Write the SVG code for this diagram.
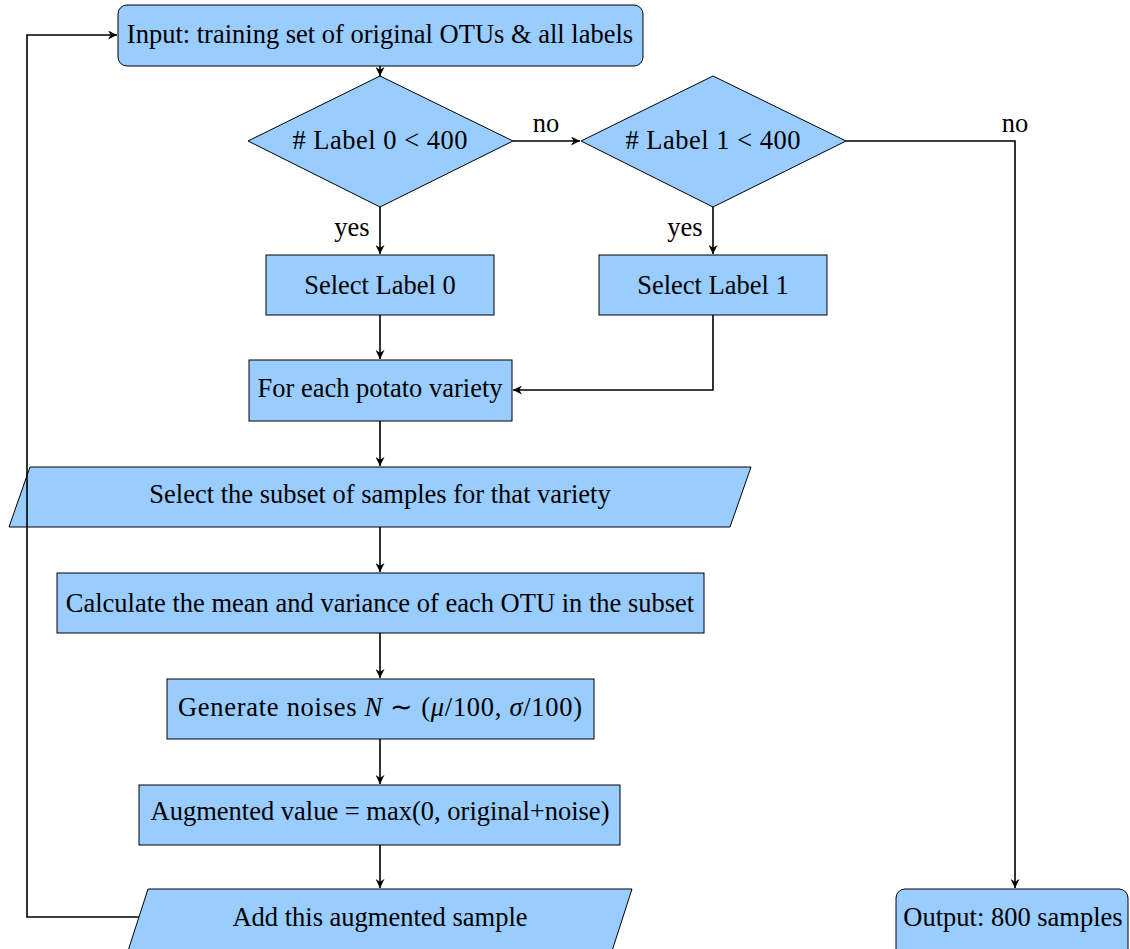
<svg xmlns="http://www.w3.org/2000/svg" width="1130" height="949" viewBox="0 0 1130 949">
<defs>
<marker id="ah" viewBox="0 0 10 10" refX="10" refY="5" markerWidth="9" markerHeight="9" markerUnits="userSpaceOnUse" orient="auto">
<path d="M0,0 L10,5 L0,10 L3,5 Z" fill="#000"/>
</marker>
<style>
.n{fill:#99CCFF;stroke:#000;stroke-width:1}
.t{font-family:"Liberation Serif","Times New Roman",serif;font-size:26.5px;fill:#000;text-anchor:middle;dominant-baseline:central}
.c{fill:none;stroke:#000;stroke-width:1.6;marker-end:url(#ah)}
.l{fill:none;stroke:#000;stroke-width:1.6}
</style>
</defs>
<rect width="1130" height="949" fill="#fff"/>
<g id="input"><rect class="n" x="118" y="5" width="525" height="61" rx="9"/><text class="t" x="380" y="34">Input: training set of original OTUs &amp; all labels</text></g>
<g id="dec0"><polygon class="n" points="380,76 513,141 380,207 248,141"/><text class="t" x="380" y="140" textLength="175" lengthAdjust="spacing"># Label 0 &lt; 400</text></g>
<g id="dec1"><polygon class="n" points="713,76 846,141 713,207 581,141"/><text class="t" x="713" y="140" textLength="175" lengthAdjust="spacing"># Label 1 &lt; 400</text></g>
<g id="sel0"><rect class="n" x="266" y="255" width="228" height="60"/><text class="t" x="380" y="285">Select Label 0</text></g>
<g id="sel1"><rect class="n" x="599" y="255" width="228" height="60"/><text class="t" x="713" y="285">Select Label 1</text></g>
<g id="foreach"><rect class="n" x="249" y="360" width="263" height="61"/><text class="t" x="380" y="388">For each potato variety</text></g>
<g id="subset"><polygon class="n" points="30,467 751,467 730,527 9,527"/><text class="t" x="380" y="494">Select the subset of samples for that variety</text></g>
<g id="calc"><rect class="n" x="57" y="573" width="647" height="60"/><text class="t" x="380" y="603">Calculate the mean and variance of each OTU in the subset</text></g>
<g id="gen"><rect class="n" x="167" y="679" width="427" height="60"/><text class="t" x="380" y="707" textLength="404" lengthAdjust="spacing">Generate noises <tspan font-style="italic">N</tspan> ∼ (<tspan font-style="italic">μ</tspan>/100, <tspan font-style="italic">σ</tspan>/100)</text></g>
<g id="aug"><rect class="n" x="139" y="785" width="481" height="60"/><text class="t" x="380" y="811">Augmented value = max(0, original+noise)</text></g>
<g id="add"><polygon class="n" points="148,889 632,889 612,951 128,951"/><text class="t" x="380" y="917">Add this augmented sample</text></g>
<g id="output"><rect class="n" x="896" y="889" width="232" height="70" rx="9"/><text class="t" x="1013" y="917">Output: 800 samples</text></g>
<g id="connectors">
<line class="c" x1="380" y1="66" x2="380" y2="76"/>
<line class="c" x1="513" y1="141" x2="580" y2="141"/>
<polyline class="c" points="846,141 1015,141 1015,888"/>
<line class="c" x1="380" y1="207" x2="380" y2="254"/>
<line class="c" x1="713" y1="207" x2="713" y2="254"/>
<line class="c" x1="380" y1="315" x2="380" y2="359"/>
<polyline class="c" points="713,315 713,390 513,390"/>
<line class="c" x1="380" y1="421" x2="380" y2="466"/>
<line class="c" x1="380" y1="527" x2="380" y2="572"/>
<line class="c" x1="380" y1="633" x2="380" y2="678"/>
<line class="c" x1="380" y1="739" x2="380" y2="784"/>
<line class="c" x1="380" y1="845" x2="380" y2="888"/>
<polyline class="c" points="139,917 27,917 27,35 117,35"/>
<text class="t" x="546" y="123">no</text>
<text class="t" x="1015" y="123">no</text>
<text class="t" x="352" y="227">yes</text>
<text class="t" x="685" y="227">yes</text>
</g>
</svg>
